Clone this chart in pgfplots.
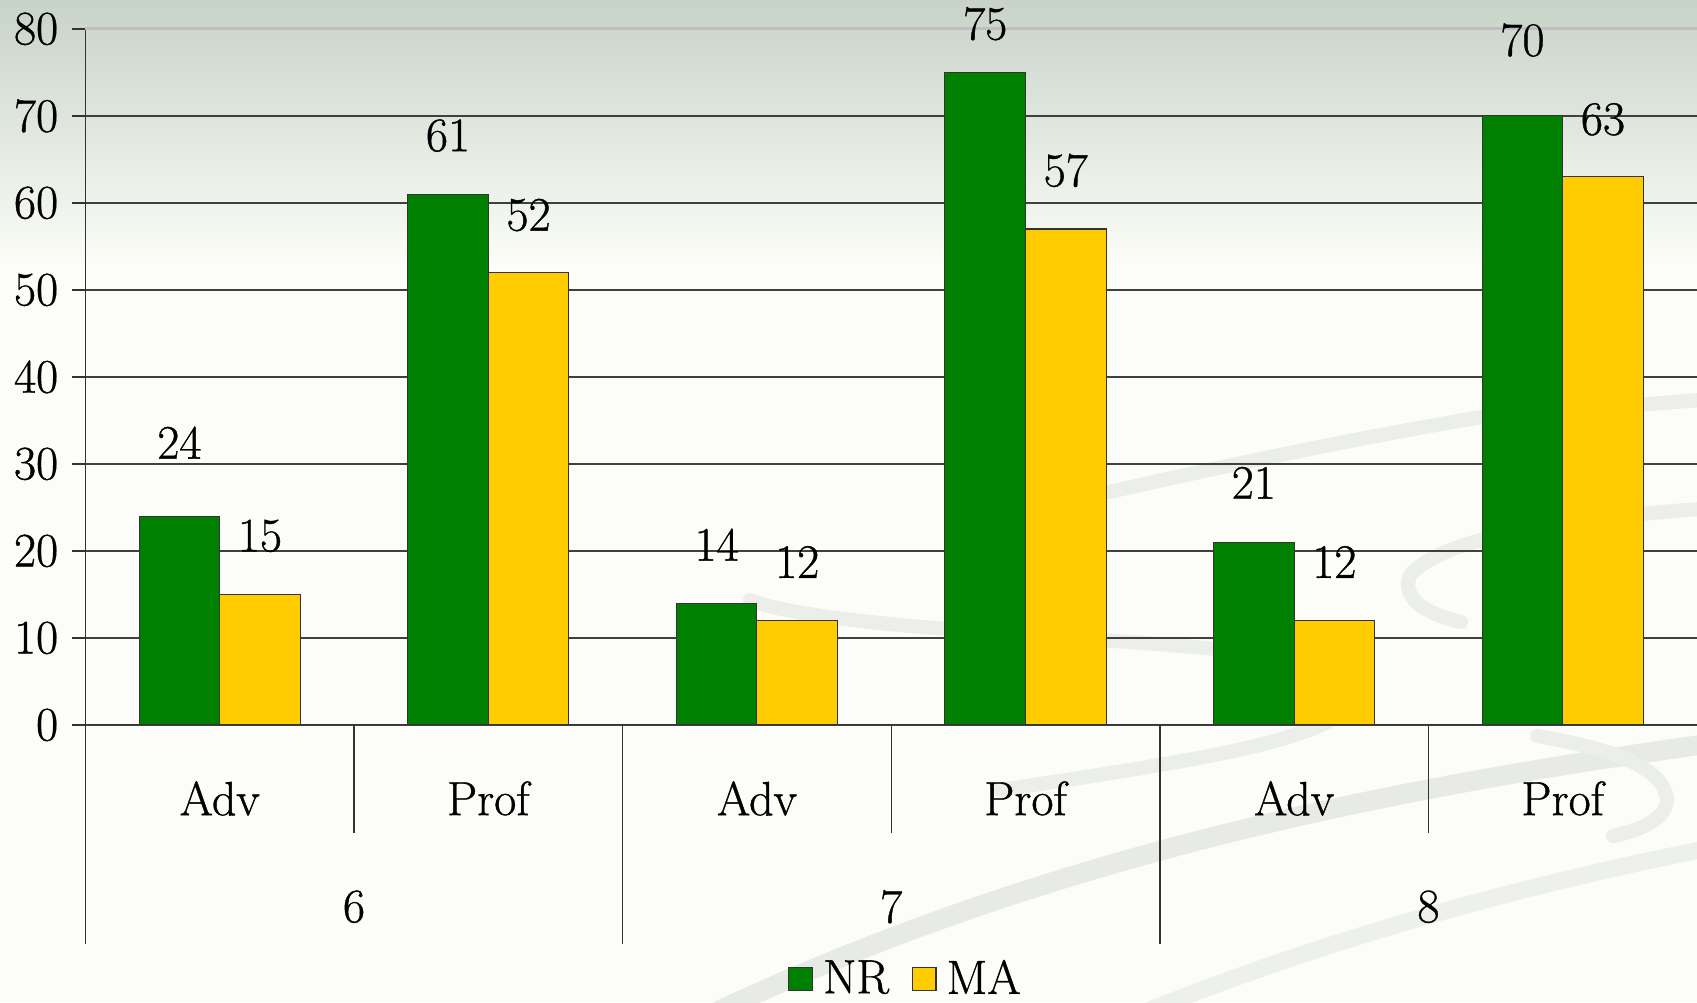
\documentclass[border=0pt]{standalone}
\usepackage{pgfplots}
\pgfplotsset{compat=1.18}
\usepackage{pgfplotstable}
\usepackage{fontspec}
\newfontfamily\heavy{Latin Modern Roman}[BoldFont=Latin Modern Roman, BoldFeatures={FakeBold=0.8}]
\definecolor{nrgreen}{RGB}{0,128,0}
\definecolor{mayellow}{RGB}{255,204,0}
\definecolor{bgtop}{RGB}{200,211,200}
\definecolor{bgbot}{RGB}{252,253,248}
\definecolor{swoosh}{RGB}{232,234,230}
\pgfplotstableread{
x nr nroff ma maoff
0 24 26.0 15 20.7
1 61 20.7 52 20.3
2 14 20.7 12 20.7
3 75 17.2 57 20.7
4 21 21.0 12 20.7
5 70 26.8 63 20.3
}\datatable
\newcommand{\bigfont}{\heavy\bfseries\fontsize{17}{20}\selectfont}
\begin{document}
\begin{tikzpicture}
\useasboundingbox (0,0) rectangle (600pt,354.3pt);
\fill[bgbot] (0,0) rectangle (600pt,354.3pt);
\shade[top color=bgtop, bottom color=bgbot] (0,260pt) rectangle (600pt,354.3pt);
\begin{scope}[x=0.35357pt, y=-0.35357pt, shift={(0,354.3pt)}, line cap=round]
  \draw[swoosh, line width=7pt] (720,1010) .. controls (1000,880) and (1300,800) .. (1700,745);
  \draw[swoosh!70!bgbot, line width=6pt] (1150,1010) .. controls (1350,930) and (1550,880) .. (1700,850);
  \draw[swoosh!80!bgbot, line width=5pt] (1000,790) .. controls (1200,760) and (1330,740) .. (1355,700) .. controls (1370,660) and (1250,650) .. (1100,640) .. controls (950,630) and (800,620) .. (750,600);
  \draw[swoosh!80!bgbot, line width=5pt] (1109,492) .. controls (1250,460) and (1400,430) .. (1483,417) -- (1700,400);
  \draw[swoosh!80!bgbot, line width=5pt] (1700,509) .. controls (1550,520) and (1440,540) .. (1410,575) .. controls (1400,600) and (1430,615) .. (1461,622);
  \draw[swoosh!80!bgbot, line width=5pt] (1537,736) .. controls (1620,750) and (1665,770) .. (1667,800) .. controls (1665,820) and (1640,830) .. (1613,836);
\end{scope}
\begin{axis}[
  at={(30.2pt,98pt)}, anchor=south west,
  scale only axis, width=569.8pt, height=246.1pt,
  ybar=0pt, bar width=0.3,
  xmin=-0.5, xmax=5.5, ymin=0, ymax=80,
  axis x line=bottom, axis y line=left,
  axis line style={-, black!80},
  ytick={0,10,...,70},
  extra y ticks={80},
  extra y tick style={grid style={black!25, line width=1.1pt}},
  ymajorgrids, grid style={black!75, line width=0.5pt},
  tick align=outside, major tick length=4.6pt,
  tick style={black!80, line width=0.5pt},
  /pgf/number format/assume math mode=true,
  xtick={0,...,5}, xticklabels={Adv,Prof,Adv,Prof,Adv,Prof},
  x tick style={draw=none},
  xticklabel style={anchor=center, yshift=-21.4pt, font=\bigfont},
  yticklabel style={font=\bigfont, xshift=-1.5pt},
  clip=false,
  nodes near coords,
  nodes near coords style={font=\bigfont, anchor=center, yshift=\off pt},
  legend style={at={(0.51,-0.365)}, anchor=center, draw=none, fill=none,
    legend columns=2, font=\bigfont,
    /tikz/every odd column/.append style={column sep=1.5pt},
    /tikz/every even column/.append style={column sep=6pt}},
  legend image code/.code={\draw[#1, draw=black!80] (0pt,-4.2pt) rectangle (8.4pt,4.2pt);},
]
\addplot[fill=nrgreen, draw=black!80, visualization depends on={\thisrow{nroff} \as \off}] table[x=x, y=nr] {\datatable};
\addplot[fill=mayellow, draw=black!80, visualization depends on={\thisrow{maoff} \as \off}] table[x=x, y=ma] {\datatable};
\legend{NR, MA}
\draw[black!80, line width=0.5pt] (axis cs:0.5,0) -- ([yshift=-38.3pt]axis cs:0.5,0);
\draw[black!80, line width=0.5pt] (axis cs:2.5,0) -- ([yshift=-38.3pt]axis cs:2.5,0);
\draw[black!80, line width=0.5pt] (axis cs:4.5,0) -- ([yshift=-38.3pt]axis cs:4.5,0);
\draw[black!80, line width=0.5pt] (axis cs:-0.5,0) -- ([yshift=-77.3pt]axis cs:-0.5,0);
\draw[black!80, line width=0.5pt] (axis cs:1.5,0) -- ([yshift=-77.3pt]axis cs:1.5,0);
\draw[black!80, line width=0.5pt] (axis cs:3.5,0) -- ([yshift=-77.3pt]axis cs:3.5,0);
\node[font=\bigfont] at ([yshift=-64.3pt]axis cs:0.5,0) {6};
\node[font=\bigfont] at ([yshift=-64.3pt]axis cs:2.5,0) {7};
\node[font=\bigfont] at ([yshift=-64.3pt]axis cs:4.5,0) {8};
\end{axis}
\end{tikzpicture}
\end{document}
